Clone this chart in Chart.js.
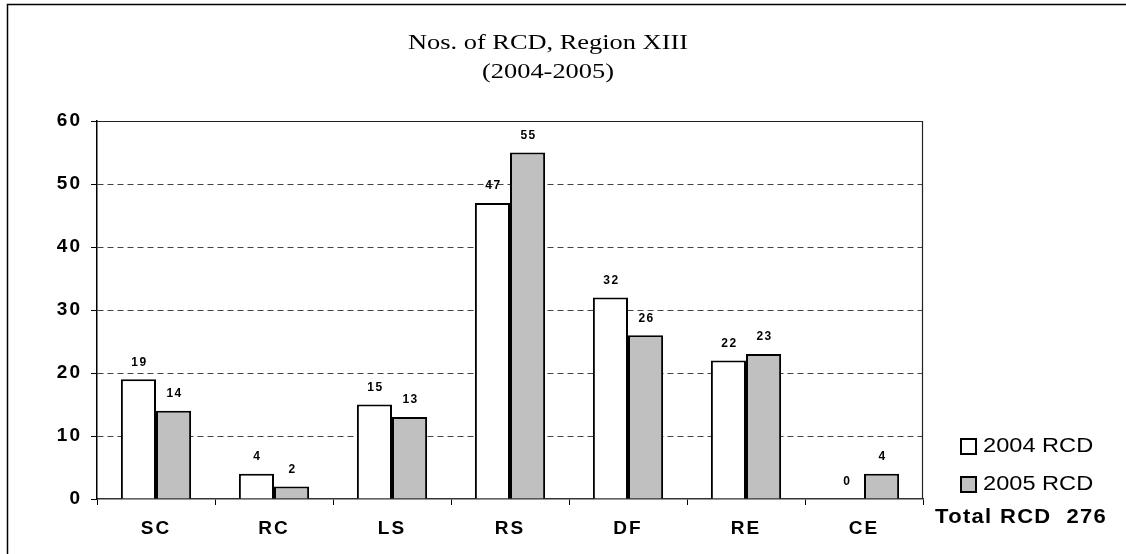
<!DOCTYPE html>
<html>
<head>
<meta charset="utf-8">
<script src="https://cdn.jsdelivr.net/npm/chart.js@4.4.1/dist/chart.umd.min.js"></script>
<style>
    html, body { margin: 0; padding: 0; background: #fff; }
    #wrap { width: 1126px; height: 554px; }
</style>
</head>
<body>
<div id="wrap"><canvas id="rcd-chart" width="1126" height="554"></canvas></div>
<script>
const categories = ['SC', 'RC', 'LS', 'RS', 'DF', 'RE', 'CE'];
const rcd2004 = [19, 4, 15, 47, 32, 22, 0];
const rcd2005 = [14, 2, 13, 55, 26, 23, 4];
const seriesNames = ['2004 RCD', '2005 RCD'];
const yTicks = [0, 10, 20, 30, 40, 50, 60];
const titleLines = ['Nos. of RCD, Region XIII', '(2004-2005)'];

const SANS = '"Liberation Sans", Arial, sans-serif';
const SERIF = '"Liberation Serif", "Times New Roman", serif';

const totalRcd = rcd2004.concat(rcd2005).reduce((a, b) => a + b, 0);

// the original picture is stretched sideways a bit, so text is drawn wider
function wideText(ctx, text, x, y, stretch) {
    ctx.save();
    ctx.translate(x, y);
    ctx.scale(stretch, 1);
    ctx.fillText(text, 0, 0);
    ctx.restore();
}

const framePlugin = {
    id: 'frame',
    beforeDraw(chart) {
        const ctx = chart.ctx;
        ctx.save();
        ctx.fillStyle = '#fff';
        ctx.fillRect(0, 0, chart.width, chart.height);
        ctx.strokeStyle = '#000';
        ctx.lineWidth = 1.5;
        ctx.beginPath();
        ctx.moveTo(7.5, chart.height);
        ctx.lineTo(7.5, 4.5);
        ctx.lineTo(chart.width, 4.5);
        ctx.stroke();

        ctx.fillStyle = '#000';
        ctx.textAlign = 'center';
        ctx.textBaseline = 'middle';
        ctx.font = '22px ' + SERIF;
        wideText(ctx, titleLines[0], 548, 43, 1.2);
        wideText(ctx, titleLines[1], 548, 72, 1.2);
        ctx.restore();
        // tick labels in the reference are widely spaced
        ctx.letterSpacing = '2px';
    },
    beforeDatasetsDraw(chart) {
        chart.ctx.letterSpacing = '0px';
    },
    afterDraw(chart) {
        const ctx = chart.ctx;
        const area = chart.chartArea;
        ctx.save();

        // plot frame top / right
        ctx.lineWidth = 1.2;
        ctx.strokeStyle = '#222';
        ctx.beginPath();
        ctx.moveTo(area.left, area.top + 0.5);
        ctx.lineTo(area.right - 0.5, area.top + 0.5);
        ctx.lineTo(area.right - 0.5, area.bottom);
        ctx.stroke();

        // value labels
        ctx.fillStyle = '#000';
        ctx.font = 'bold 12px ' + SANS;
        ctx.letterSpacing = '1.5px';
        ctx.textAlign = 'center';
        ctx.textBaseline = 'middle';
        chart.data.datasets.forEach((ds, i) => {
            chart.getDatasetMeta(i).data.forEach((bar, j) => {
                ctx.fillText(String(ds.data[j]), bar.x + 1, bar.y - 17);
            });
        });

        // legend
        ctx.letterSpacing = '0px';
        ctx.textAlign = 'left';
        ctx.font = '20px ' + SANS;
        const legendY = [446, 484];
        chart.data.datasets.forEach((ds, i) => {
            const y = legendY[i];
            ctx.fillStyle = ds.backgroundColor;
            ctx.fillRect(961, y - 7, 15, 15);
            ctx.strokeStyle = '#000';
            ctx.lineWidth = 2;
            ctx.strokeRect(961, y - 7, 15, 15);
            ctx.fillStyle = '#000';
            wideText(ctx, ds.label, 983, y, 1.18);
        });

        ctx.font = 'bold 20px ' + SANS;
        ctx.letterSpacing = '1.2px';
        wideText(ctx, 'Total RCD  ' + totalRcd, 935, 517, 1.1);
        ctx.restore();
    }
};

new Chart(document.getElementById('rcd-chart'), {
    type: 'bar',
    data: {
        labels: categories,
        datasets: [{
            label: seriesNames[0],
            data: rcd2004,
            backgroundColor: '#ffffff',
            borderColor: '#000000',
            borderWidth: ctx => (ctx.raw === 0 ? 0 : 2),
            categoryPercentage: 0.595,
            barPercentage: 1.0
        }, {
            label: seriesNames[1],
            data: rcd2005,
            backgroundColor: '#c0c0c0',
            borderColor: '#000000',
            borderWidth: ctx => (ctx.raw === 0 ? 0 : 2),
            categoryPercentage: 0.595,
            barPercentage: 1.0
        }]
    },
    options: {
        responsive: false,
        animation: false,
        layout: {
            padding: { top: 121, right: 203, left: 0, bottom: 0 }
        },
        plugins: {
            legend: { display: false },
            title: { display: false },
            tooltip: { enabled: false }
        },
        scales: {
            x: {
                afterFit: scale => { scale.height = 55; },
                grid: {
                    display: true,
                    drawOnChartArea: false,
                    drawTicks: true,
                    tickLength: 6,
                    tickColor: '#000',
                    offset: true
                },
                border: { display: true, color: '#333', width: 1.5 },
                ticks: {
                    color: '#000',
                    padding: 12,
                    font: { family: SANS, size: 19, weight: 'bold' }
                }
            },
            y: {
                min: 0,
                max: 60,
                afterFit: scale => { scale.width = 97; },
                afterBuildTicks: scale => {
                    scale.ticks = yTicks.map(v => ({ value: v }));
                },
                grid: {
                    color: ctx => (ctx.tick && (ctx.tick.value === 0 || ctx.tick.value === 60) ? 'rgba(0,0,0,0)' : '#444'),
                    lineWidth: 1,
                    drawTicks: true,
                    tickLength: 6,
                    tickColor: '#000'
                },
                border: { display: true, color: '#000', width: 1.5, dash: [6, 4] },
                ticks: {
                    color: '#000',
                    padding: 9,
                    font: { family: SANS, size: 19, weight: 'bold' }
                }
            }
        }
    },
    plugins: [framePlugin]
});
</script>
</body>
</html>
